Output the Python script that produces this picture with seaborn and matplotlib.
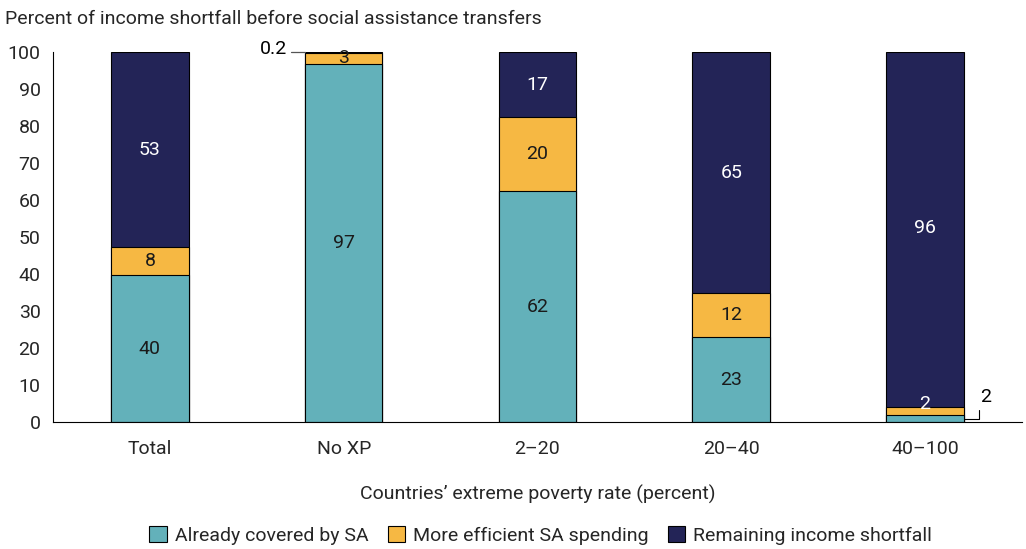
import matplotlib
matplotlib.use("Agg")
import matplotlib.pyplot as plt
import seaborn as sns
import pandas as pd
import numpy as np
from matplotlib.patches import Patch

categories = ["Total", "No XP", "2\u201320", "20\u201340", "40\u2013100"]
covered = [39.7, 96.8, 62.5, 23.0, 2.0]
efficient = [7.6, 3.0, 20.0, 11.8, 2.0]
remaining = [52.7, 0.2, 17.5, 65.2, 96.0]
covered_lbl = ["40", "97", "62", "23", None]
efficient_lbl = ["8", "3", "20", "12", None]
remaining_lbl = ["53", None, "17", "65", "96"]

C_TEAL = "#63b1ba"
C_ORANGE = "#f6b843"
C_NAVY = "#232457"

sns.set_theme(style="white")
plt.rcParams["font.family"] = ["Roboto", "DejaVu Sans"]

df = pd.DataFrame({"cat": categories, "covered": covered,
                   "efficient": efficient, "remaining": remaining})
df["lvl2"] = df["covered"] + df["efficient"]
df["lvl3"] = df["lvl2"] + df["remaining"]

fig = plt.figure(figsize=(10.26, 5.49), dpi=100)
ax = fig.add_axes([0.0517, 0.231, 0.9443, 0.674])

common = dict(x="cat", order=categories, width=0.4, edgecolor="black",
              linewidth=0.8, ax=ax, errorbar=None, saturation=1)
sns.barplot(data=df, y="lvl3", color=C_NAVY, **common)
sns.barplot(data=df, y="lvl2", color=C_ORANGE, **common)
sns.barplot(data=df, y="covered", color=C_TEAL, **common)

fs = 14
for i in range(len(categories)):
    c, e, r = covered[i], efficient[i], remaining[i]
    if covered_lbl[i]:
        ax.text(i, c / 2, covered_lbl[i], ha="center", va="center", fontsize=fs, color="#1a1a1a")
    if efficient_lbl[i]:
        ax.text(i, c + e / 2, efficient_lbl[i], ha="center", va="center", fontsize=fs, color="#1a1a1a")
    if remaining_lbl[i]:
        ax.text(i, c + e + r / 2 + (0.5 if i == 4 else 0), remaining_lbl[i], ha="center", va="center",
                fontsize=fs, color="white")

# special annotations
ax.text(4, 5.0, "2", ha="center", va="center", fontsize=fs, color="white")
ax.plot([0.73, 0.8], [100.1, 100.1], color="#555555", lw=0.9, clip_on=False)
ax.text(0.71, 100.9, "0.2", ha="right", va="center", fontsize=fs, color="black")
ax.plot([4.2, 4.28, 4.28], [0.8, 0.8, 3.4], color="black", lw=0.8)
ax.text(4.285, 6.8, "2", ha="left", va="center", fontsize=fs, color="black")

ax.set_xlim(-0.5, 4.5)
ax.set_ylim(0, 100)
ax.set_yticks(np.arange(0, 101, 10))
ax.set_xticks([0.5, 1.5, 2.5, 3.5, 4.5])
ax.set_xticklabels([])
ax.set_xticks(range(len(categories)), minor=True)
ax.set_xticklabels(categories, minor=True)
ax.tick_params(axis="x", which="major", direction="out", length=7, width=0.8, color="black")
ax.tick_params(axis="x", which="minor", length=0, pad=13, labelsize=fs)
ax.tick_params(axis="y", direction="out", length=6, width=0.8, color="black", labelsize=fs, pad=3)
for s in ["top", "right"]:
    ax.spines[s].set_visible(False)
for s in ["left", "bottom"]:
    ax.spines[s].set_color("black")
    ax.spines[s].set_linewidth(0.8)
ax.set_ylabel("")
ax.set_xlabel("Countries\u2019 extreme poverty rate (percent)", fontsize=fs, labelpad=19)

fig.text(0.005, 0.965, "Percent of income shortfall before social assistance transfers",
         fontsize=fs, ha="left", va="center")

handles = [Patch(facecolor=C_TEAL, edgecolor="black", linewidth=0.8, label="Already covered by SA"),
           Patch(facecolor=C_ORANGE, edgecolor="black", linewidth=0.8, label="More efficient SA spending"),
           Patch(facecolor=C_NAVY, edgecolor="black", linewidth=0.8, label="Remaining income shortfall")]
fig.legend(handles=handles, loc="center", bbox_to_anchor=(0.527, 0.025), ncol=3, frameon=False,
           fontsize=fs, handlelength=0.9, handleheight=0.9, handletextpad=0.4, columnspacing=1.0)

fig.savefig("out.png", dpi=100)
